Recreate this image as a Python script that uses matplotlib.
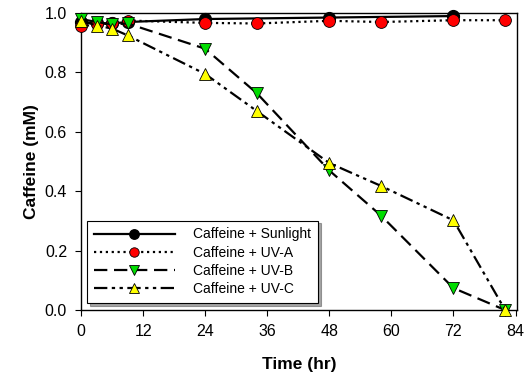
import matplotlib
matplotlib.use("Agg")
import matplotlib.pyplot as plt

plt.rcParams['font.family'] = ['Liberation Sans', 'DejaVu Sans']

# data
t_sun = [0, 3, 6, 9, 24, 48, 72]
c_sun = [0.97, 0.965, 0.965, 0.97, 0.98, 0.985, 0.99]

t_uv = [0, 3, 6, 9, 24, 34, 48, 58, 72, 82]
c_uva = [0.955, 0.962, 0.965, 0.975, 0.967, 0.965, 0.974, 0.970, 0.976, 0.976]
c_uvb = [0.98, 0.97, 0.962, 0.965, 0.88, 0.73, 0.47, 0.318, 0.074, 0.0]
c_uvc = [0.975, 0.958, 0.948, 0.925, 0.795, 0.67, 0.495, 0.418, 0.302, 0.0]

x_ticks = [0, 12, 24, 36, 48, 60, 72, 84]
y_ticks = [0.0, 0.2, 0.4, 0.6, 0.8, 1.0]

fig = plt.figure(figsize=(5.26, 3.74), dpi=100)
ax = fig.add_axes([0.154, 0.171, 0.829, 0.794])

ax.plot(t_sun, c_sun, '-', color='black', lw=1.6, marker='o', ms=8.5,
        mfc='black', mec='black', label='Caffeine + Sunlight', zorder=3)
ax.plot(t_uv, c_uva, ':', color='black', lw=1.6, marker='o', ms=8.5,
        mfc='red', mec='black', mew=0.6, label='Caffeine + UV-A', zorder=4)
ax.plot(t_uv, c_uvb, color='black', lw=1.6, dashes=(6, 3), marker='v', ms=8.5,
        mfc='#00dd00', mec='black', mew=0.6, label='Caffeine + UV-B', zorder=5)
ax.plot(t_uv, c_uvc, color='black', lw=1.6, dashes=(6, 2, 1.5, 2, 1.5, 2),
        marker='^', ms=8.5, mfc='yellow', mec='black', mew=0.6,
        label='Caffeine + UV-C', zorder=6)

ax.set_xlim(0, 84.3)
ax.set_ylim(0, 1.0)
ax.set_xticks(x_ticks)
ax.set_yticks(y_ticks)
ax.set_yticklabels([f"{v:.1f}" for v in y_ticks])
ax.tick_params(direction='out', length=4, labelsize=11.5, top=False, right=False)
ax.tick_params(axis='x', pad=6)
ax.tick_params(axis='y', pad=6)
for s in ax.spines.values():
    s.set_linewidth(1.0)

ax.set_xlabel('Time (hr)', fontsize=12.5, fontweight='bold', labelpad=13)
ax.set_ylabel('Caffeine (mM)', fontsize=12.5, fontweight='bold', labelpad=4)

for line in ax.get_lines():
    line.set_clip_on(False)

leg = ax.legend(loc='lower left', bbox_to_anchor=(0.014, 0.024), fontsize=10,
                borderaxespad=0, markerscale=0.8,
                handlelength=5.8, fancybox=False, shadow=True, framealpha=1,
                edgecolor='black', borderpad=0.5, labelspacing=0.3,
                handletextpad=1.35)
leg.get_frame().set_linewidth(0.8)

fig.savefig('out.png', dpi=100)
